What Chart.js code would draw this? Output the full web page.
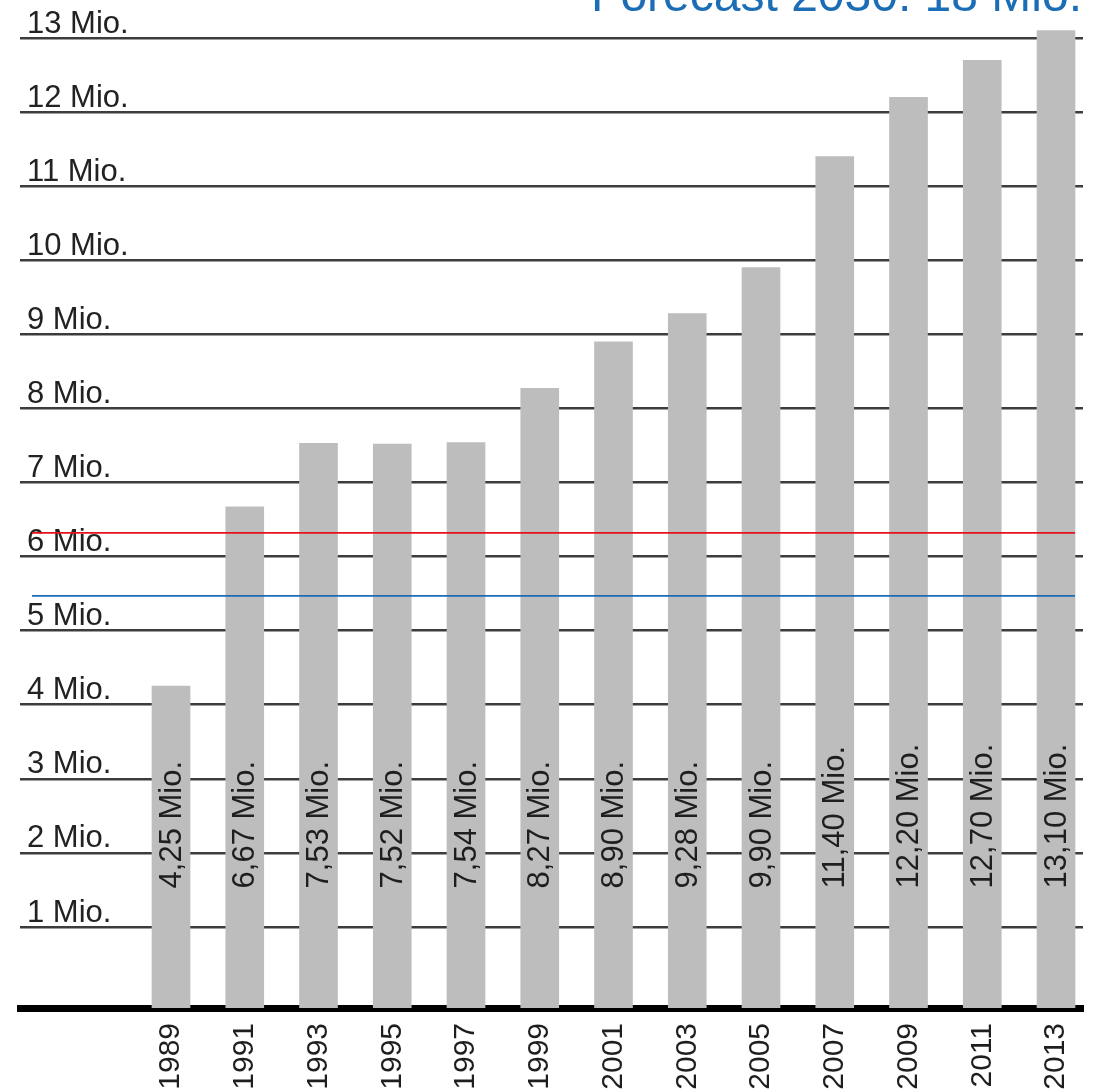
<!DOCTYPE html>
<html>
<head>
<meta charset="utf-8">
<script src="https://cdn.jsdelivr.net/npm/chart.js@4/dist/chart.umd.min.js"></script>
<style>
  html, body { margin: 0; padding: 0; background: #fff; }
  #wrap { width: 1094px; height: 1092px; }
</style>
</head>
<body>
<div id="wrap"><canvas id="myChart"></canvas></div>
<script>
// Daten
const years = [1989, 1991, 1993, 1995, 1997, 1999, 2001, 2003, 2005, 2007, 2009, 2011, 2013];
const values = [4.25, 6.67, 7.53, 7.52, 7.54, 8.27, 8.90, 9.28, 9.90, 11.40, 12.20, 12.70, 13.10];
const yTicks = [1, 2, 3, 4, 5, 6, 7, 8, 9, 10, 11, 12, 13];
const refRed = 6.32;
const refBlue = 5.47;
const forecast = 'Forecast 2030: 18 Mio.';

const yMin = -0.094, yMax = 13.513;
const font = 'Liberation Sans, Arial, sans-serif';

function fmt(v) {
    return v.toFixed(2).replace('.', ',') + ' Mio.';
}

// keine automatischen Randabstaende der Achsen
function noPad(scale) {
    scale.paddingLeft = 0;
    scale.paddingRight = 0;
    scale.paddingTop = 0;
    scale.paddingBottom = 0;
}

// Beschriftungen in den Balken, Referenzlinien und Titel
const extras = {
    id: 'extras',
    afterDatasetsDraw(chart) {
        const ctx = chart.ctx;
        const area = chart.chartArea;
        const y = chart.scales.y;

        // Text in den Balken
        const meta = chart.getDatasetMeta(0);
        ctx.save();
        ctx.font = '31px ' + font;
        ctx.fillStyle = '#1e1e1e';
        ctx.textAlign = 'left';
        ctx.textBaseline = 'middle';
        meta.data.forEach((bar, i) => {
            ctx.save();
            ctx.translate(bar.x + 1, y.getPixelForValue(1.52));
            ctx.rotate(-Math.PI / 2);
            ctx.fillText(fmt(values[i]), 0, 0);
            ctx.restore();
        });
        ctx.restore();

        // rote und blaue Linie
        [[refRed, '#e3121b'], [refBlue, '#1b6db5']].forEach(([v, c]) => {
            const py = y.getPixelForValue(v);
            ctx.save();
            ctx.strokeStyle = c;
            ctx.lineWidth = 1.8;
            ctx.beginPath();
            ctx.moveTo(area.left + 12, py);
            ctx.lineTo(area.right - 8, py);
            ctx.stroke();
            ctx.restore();
        });
    },
    afterDraw(chart) {
        const ctx = chart.ctx;
        ctx.save();
        ctx.font = '48px ' + font;
        ctx.fillStyle = '#1b6db5';
        ctx.textAlign = 'right';
        ctx.textBaseline = 'alphabetic';
        ctx.fillText(forecast, 1082, 11);
        ctx.restore();
    }
};

const ctx = document.getElementById('myChart').getContext('2d');
const myChart = new Chart(ctx, {
    type: 'bar',
    data: {
        datasets: [{
            data: years.map((yr, i) => ({ x: yr, y: values[i] })),
            backgroundColor: '#bdbdbd',
            borderWidth: 0,
            barThickness: 38,
            base: yMin
        }]
    },
    options: {
        responsive: true,
        maintainAspectRatio: false,
        animation: false,
        layout: { padding: { left: 20, right: 11, top: 0, bottom: 0 } },
        plugins: {
            legend: { display: false },
            tooltip: { enabled: false }
        },
        scales: {
            x: {
                type: 'linear',
                offset: false,
                min: 1984.905,
                max: 2013.732,
                afterBuildTicks: (scale) => { scale.ticks = years.map(v => ({ value: v })); },
                afterFit: (scale) => { scale.height = 84; noPad(scale); },
                grid: { display: false, drawTicks: false, offset: false },
                border: { display: true, color: '#000', width: 7 },
                ticks: {
                    autoSkip: false,
                    minRotation: 90,
                    maxRotation: 90,
                    padding: 15,
                    color: '#1e1e1e',
                    font: { size: 30, family: font },
                    callback: (v) => String(v)
                }
            },
            y: {
                min: yMin,
                max: yMax,
                afterBuildTicks: (scale) => { scale.ticks = yTicks.map(v => ({ value: v })); },
                afterFit: (scale) => { scale.width = 0; noPad(scale); },
                grid: { color: '#3c3c3c', lineWidth: 2.5, drawTicks: false },
                border: { display: false },
                ticks: {
                    mirror: true,
                    padding: 7,
                    labelOffset: -14,
                    color: '#222',
                    font: { size: 31, family: font },
                    callback: (v) => v + ' Mio.'
                }
            }
        }
    },
    plugins: [extras]
});
</script>
</body>
</html>
